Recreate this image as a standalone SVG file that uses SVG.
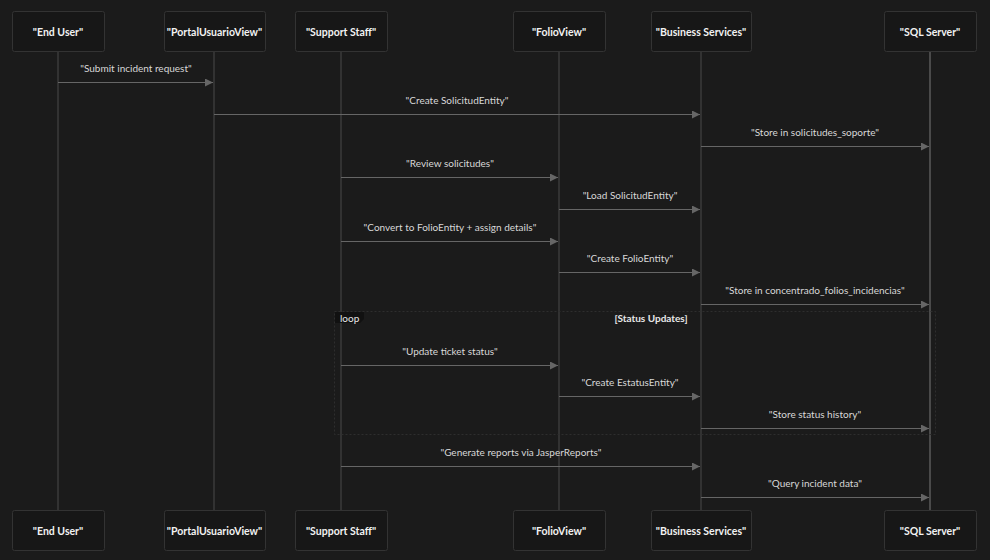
<svg xmlns="http://www.w3.org/2000/svg" width="990" height="560" viewBox="0 0 990 560">
<defs>
<style>
.bg{fill:#1b1b1b}
.actor rect{fill:#171717;stroke:#333;stroke-width:1}
.actor text{fill:#f2f2f2;font-family:Lato,"Liberation Sans",sans-serif;font-size:10.5px;font-weight:bold;text-anchor:middle;dominant-baseline:central}
.life{stroke:#4a4a4a;stroke-width:1}
.msg{stroke:#666;stroke-width:1;fill:none}
.lbl{fill:#d8d8d8;font-family:Lato,"Liberation Sans",sans-serif;font-size:10px;text-anchor:middle}
.loop{fill:none;stroke:#2e2e2e;stroke-width:1;stroke-dasharray:2 2}
.loopt{fill:#e8e8e8;font-family:Lato,"Liberation Sans",sans-serif;font-size:10px}
</style>
<marker id="ah" viewBox="0 0 10 10" refX="10" refY="5" markerWidth="8" markerHeight="8" orient="auto" markerUnits="userSpaceOnUse">
<path d="M0,0 L10,5 L0,10 z" fill="#666"/>
</marker>
</defs>
<rect class="bg" x="0" y="0" width="990" height="560"/>
<g id="lifelines">
<line class="life" x1="58" y1="51" x2="58" y2="510"/>
<line class="life" x1="214" y1="51" x2="214" y2="510"/>
<line class="life" x1="341" y1="51" x2="341" y2="510"/>
<line class="life" x1="559" y1="51" x2="559" y2="510"/>
<line class="life" x1="701" y1="51" x2="701" y2="510"/>
<line class="life" x1="930" y1="51" x2="930" y2="510" style="stroke-width:2"/>
</g>
<g id="loop">
<rect class="loop" x="334.5" y="311.5" width="601" height="123"/>
<path d="M335,312 H364 V319 L360,323 H335 Z" fill="#111"/>
<text class="loopt" x="340" y="322">loop</text>
<text class="loopt" x="651" y="322" text-anchor="middle" font-weight="bold">[Status Updates]</text>
</g>
<g id="actor-enduser" class="actor"><rect x="12.5" y="11.5" width="92" height="40" rx="2"/><text x="58" y="32">"End User"</text></g>
<g id="actor-portal" class="actor"><rect x="164.5" y="11.5" width="101" height="40" rx="2"/><text x="214.5" y="32">"PortalUsuarioView"</text></g>
<g id="actor-support" class="actor"><rect x="295.5" y="11.5" width="92" height="40" rx="2"/><text x="341" y="32">"Support Staff"</text></g>
<g id="actor-folio" class="actor"><rect x="513.5" y="11.5" width="92" height="40" rx="2"/><text x="559" y="32">"FolioView"</text></g>
<g id="actor-business" class="actor"><rect x="651.5" y="11.5" width="100" height="40" rx="2"/><text x="701" y="32">"Business Services"</text></g>
<g id="actor-sql" class="actor"><rect x="884.5" y="11.5" width="92" height="40" rx="2"/><text x="930" y="32">"SQL Server"</text></g>
<g id="actor-enduser-b" class="actor"><rect x="12.5" y="510.5" width="92" height="40" rx="2"/><text x="58" y="531">"End User"</text></g>
<g id="actor-portal-b" class="actor"><rect x="164.5" y="510.5" width="101" height="40" rx="2"/><text x="214.5" y="531">"PortalUsuarioView"</text></g>
<g id="actor-support-b" class="actor"><rect x="295.5" y="510.5" width="92" height="40" rx="2"/><text x="341" y="531">"Support Staff"</text></g>
<g id="actor-folio-b" class="actor"><rect x="513.5" y="510.5" width="92" height="40" rx="2"/><text x="559" y="531">"FolioView"</text></g>
<g id="actor-business-b" class="actor"><rect x="651.5" y="510.5" width="100" height="40" rx="2"/><text x="701" y="531">"Business Services"</text></g>
<g id="actor-sql-b" class="actor"><rect x="884.5" y="510.5" width="92" height="40" rx="2"/><text x="930" y="531">"SQL Server"</text></g>
<g id="messages">
<line class="msg" x1="58" y1="82.5" x2="213" y2="82.5" marker-end="url(#ah)"/>
<text class="lbl" x="136" y="72">"Submit incident request"</text>
<line class="msg" x1="214" y1="114.5" x2="700" y2="114.5" marker-end="url(#ah)"/>
<text class="lbl" x="457" y="104">"Create SolicitudEntity"</text>
<line class="msg" x1="701" y1="146.5" x2="929" y2="146.5" marker-end="url(#ah)"/>
<text class="lbl" x="815" y="136">"Store in solicitudes_soporte"</text>
<line class="msg" x1="341" y1="177.5" x2="558" y2="177.5" marker-end="url(#ah)"/>
<text class="lbl" x="450" y="167">"Review solicitudes"</text>
<line class="msg" x1="559" y1="209.5" x2="700" y2="209.5" marker-end="url(#ah)"/>
<text class="lbl" x="630" y="199">"Load SolicitudEntity"</text>
<line class="msg" x1="341" y1="241.5" x2="558" y2="241.5" marker-end="url(#ah)"/>
<text class="lbl" x="450" y="231">"Convert to FolioEntity + assign details"</text>
<line class="msg" x1="559" y1="272.5" x2="700" y2="272.5" marker-end="url(#ah)"/>
<text class="lbl" x="630" y="262">"Create FolioEntity"</text>
<line class="msg" x1="701" y1="304.5" x2="929" y2="304.5" marker-end="url(#ah)"/>
<text class="lbl" x="815" y="294">"Store in concentrado_folios_incidencias"</text>
<line class="msg" x1="341" y1="365.5" x2="558" y2="365.5" marker-end="url(#ah)"/>
<text class="lbl" x="450" y="355">"Update ticket status"</text>
<line class="msg" x1="559" y1="396.5" x2="700" y2="396.5" marker-end="url(#ah)"/>
<text class="lbl" x="630" y="386">"Create EstatusEntity"</text>
<line class="msg" x1="701" y1="428.5" x2="929" y2="428.5" marker-end="url(#ah)"/>
<text class="lbl" x="815" y="418">"Store status history"</text>
<line class="msg" x1="341" y1="466.5" x2="700" y2="466.5" marker-end="url(#ah)"/>
<text class="lbl" x="521" y="456">"Generate reports via JasperReports"</text>
<line class="msg" x1="701" y1="497.5" x2="929" y2="497.5" marker-end="url(#ah)"/>
<text class="lbl" x="815" y="487">"Query incident data"</text>
</g>
</svg>
